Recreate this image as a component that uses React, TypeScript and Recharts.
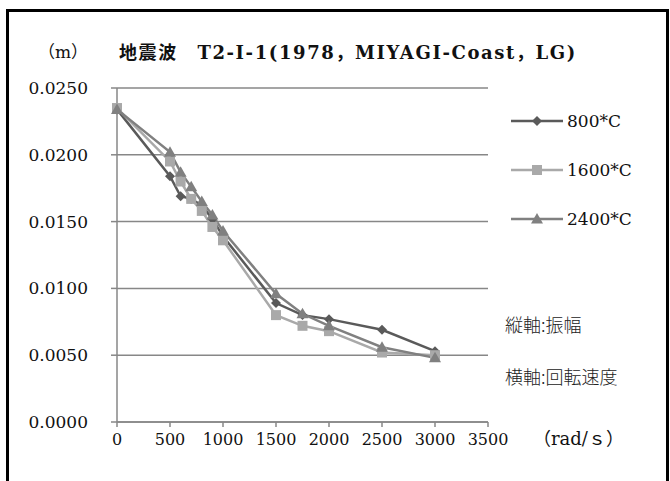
import React from 'react';
import { LineChart, Line, XAxis, YAxis, CartesianGrid } from 'recharts';

const speeds = [0, 500, 600, 700, 800, 900, 1000, 1500, 1750, 2000, 2500, 3000];
const amp800 = [0.0234, 0.0184, 0.0169, 0.0167, 0.0162, 0.0152, 0.0139, 0.0089, 0.0080, 0.0077, 0.0069, 0.0053];
const amp1600 = [0.0235, 0.0195, 0.0180, 0.0167, 0.0158, 0.0146, 0.0136, 0.0080, 0.0072, 0.0068, 0.0052, 0.0050];
const amp2400 = [0.0234, 0.0202, 0.0187, 0.0176, 0.0165, 0.0155, 0.0143, 0.0096, 0.0081, 0.0072, 0.0056, 0.0048];
const seriesNames = ['800*C', '1600*C', '2400*C'];
const xTicks = [0, 500, 1000, 1500, 2000, 2500, 3000, 3500];
const yTicks = [0, 0.005, 0.01, 0.015, 0.02, 0.025];

const rows = speeds.map((x, i) => ({ x, a: amp800[i], b: amp1600[i], c: amp2400[i] }));

const SERIF = "'DejaVu Serif', 'Noto Sans CJK JP', serif";
const SANS = "'Noto Sans CJK JP', sans-serif";
const C800 = '#5a5a5a';
const C1600 = '#a9a9a9';
const C2400 = '#808080';
const GRID = '#878787';

const Diamond = (p: any) => {
  const { cx, cy, fill, r = 5 } = p;
  if (cx == null || cy == null) return null;
  return <path d={`M${cx},${cy - r} L${cx + r},${cy} L${cx},${cy + r} L${cx - r},${cy} Z`} fill={fill} />;
};
const Square = (p: any) => {
  const { cx, cy, fill, r = 5 } = p;
  if (cx == null || cy == null) return null;
  return <rect x={cx - r} y={cy - r} width={2 * r} height={2 * r} fill={fill} />;
};
const Triangle = (p: any) => {
  const { cx, cy, fill, r = 6 } = p;
  if (cx == null || cy == null) return null;
  return <path d={`M${cx},${cy - r} L${cx + r},${cy + r * 0.75} L${cx - r},${cy + r * 0.75} Z`} fill={fill} />;
};

const series = [
  { key: 'a', name: seriesNames[0], color: C800, Shape: Diamond },
  { key: 'b', name: seriesNames[1], color: C1600, Shape: Square },
  { key: 'c', name: seriesNames[2], color: C2400, Shape: Triangle },
];

export default function App() {
  return (
    <div style={{ position: 'absolute', left: 0, top: 0, width: 670, height: 481, background: '#fff', overflow: 'hidden' }}>
      <div style={{ position: 'absolute', left: 6, top: 9, width: 657, height: 500, borderLeft: '3px solid #000', borderTop: '3px solid #000', borderRight: '3px solid #000' }} />
      <LineChart width={670} height={481} data={rows} margin={{ top: 88, right: 182, bottom: 29, left: 0 }}>
        <CartesianGrid vertical={false} stroke={GRID} strokeWidth={1.5} />
        <XAxis
          type="number"
          dataKey="x"
          domain={[0, 3500]}
          ticks={xTicks}
          height={30}
          tickSize={5}
          tickMargin={7}
          stroke={GRID}
          strokeWidth={1.5}
          tick={{ fill: '#111', fontFamily: SERIF, fontSize: 16 }}
          interval={0}
        />
        <YAxis
          type="number"
          domain={[0, 0.025]}
          ticks={yTicks}
          width={117}
          tickSize={6}
          tickMargin={23}
          stroke={GRID}
          strokeWidth={1.5}
          tickFormatter={(v: number) => v.toFixed(4)}
          tick={{ fill: '#111', fontFamily: SERIF, fontSize: 17 }}
          interval={0}
        />
        {series.map((s) => (
          <Line
            key={s.key}
            type="linear"
            dataKey={s.key}
            name={s.name}
            stroke={s.color}
            strokeWidth={2.5}
            isAnimationActive={false}
            dot={(p: any) => <s.Shape key={`${s.key}-${p.index}`} cx={p.cx} cy={p.cy} fill={s.color} />}
            activeDot={false}
          />
        ))}
      </LineChart>
      <div style={{ position: 'absolute', left: 509, top: 96 }}>
        {series.map((s) => (
          <div key={s.key} style={{ display: 'flex', alignItems: 'center', height: 49 }}>
            <svg width={58} height={20}>
              <line x1={2} y1={10} x2={54} y2={10} stroke={s.color} strokeWidth={2.5} />
              <s.Shape cx={28} cy={10} fill={s.color} />
            </svg>
            <span style={{ fontFamily: SERIF, fontSize: 17, color: '#111' }}>{s.name}</span>
          </div>
        ))}
      </div>
      <div style={{ position: 'absolute', left: 38, top: 38, fontFamily: SERIF, fontSize: 17, color: '#111' }}>（m）</div>
      <div style={{ position: 'absolute', left: 119, top: 38, fontFamily: SERIF, fontSize: 18, letterSpacing: 1.6, fontWeight: 'bold', color: '#111', whiteSpace: 'nowrap' }}>
        地震波　T2-I-1(1978，MIYAGI-Coast，LG)
      </div>
      <div style={{ position: 'absolute', left: 533, top: 424, fontFamily: SERIF, fontSize: 18, color: '#111', whiteSpace: 'nowrap' }}>（rad/ｓ）</div>
      <div style={{ position: 'absolute', left: 505, top: 311, fontFamily: SANS, fontSize: 18, fontWeight: 300, color: '#222', whiteSpace: 'nowrap' }}>縦軸:振幅</div>
      <div style={{ position: 'absolute', left: 505, top: 363, fontFamily: SANS, fontSize: 18, fontWeight: 300, color: '#222', whiteSpace: 'nowrap' }}>横軸:回転速度</div>
    </div>
  );
}
